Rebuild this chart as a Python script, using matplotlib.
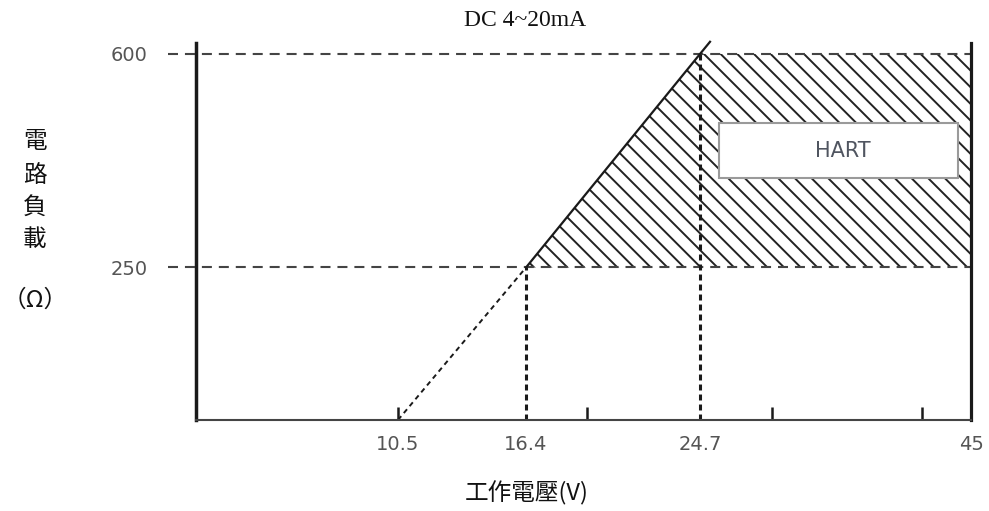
import numpy as np
import matplotlib
matplotlib.use('Agg')
import matplotlib.pyplot as plt
from matplotlib.patches import Polygon, Rectangle

plt.rcParams['lines.scale_dashes'] = False
plt.rcParams['hatch.linewidth'] = 1.4

# ---------------- data ----------------
title = 'DC 4~20mA'
x_label = '工作電壓(V)'
y_label_chars = ['電', '路', '負', '載']
y_label_unit = '（Ω）'
x_tick_values = [10.5, 16.4, 24.7, 45]
x_tick_labels = ['10.5', '16.4', '24.7', '45']
x_minor_ticks = [10.5, 19.3, 30.1, 41.3]
y_tick_values = [250, 600]
y_tick_labels = ['250', '600']
v_start, v_knee, v_full, v_max = 10.5, 16.4, 24.7, 45
r_zero, r_min, r_max = 0, 250, 600
extension_v, extension_r = 25.45, 620
hart_label = 'HART'

# non-linear (schematic) voltage axis: breakpoints -> relative positions
scale_volts = [0, 10.5, 16.4, 24.7, 45]
scale_pos = [0, 202, 330, 504, 775]


def fwd(v):
    return np.interp(v, scale_volts, scale_pos)


def inv(p):
    return np.interp(p, scale_pos, scale_volts)


fig = plt.figure(figsize=(9.89, 5.11), dpi=100)
W, H = 989, 511
ax = fig.add_axes([196 / W, (H - 420) / H, 775 / W, 377 / H])
ax.set_xscale('function', functions=(fwd, inv))
ax.set_xlim(0, 45)
ax.set_ylim(0, 618)

# hatched operating region
poly = Polygon([[v_knee, r_min], [v_full, r_max], [v_max, r_max], [v_max, r_min]],
               closed=True, facecolor='none', edgecolor='#222222', linewidth=0,
               hatch='\\\\', zorder=1)
ax.add_patch(poly)

# horizontal dashed reference lines (extend left of axis)
ytr = ax.get_yaxis_transform()
for r in [r_min, r_max]:
    ax.plot([-0.036, 1.0], [r, r], transform=ytr, color='#444444', lw=1.5,
            linestyle=(0, (7.2, 5.0)), clip_on=False, zorder=2)

# vertical dotted lines
ax.plot([v_knee, v_knee], [r_zero, r_min], color='#1a1a1a', lw=2.2,
        linestyle=(0, (4.3, 2.9)), zorder=2)
ax.plot([v_full, v_full], [r_zero, r_max], color='#1a1a1a', lw=2.2,
        linestyle=(0, (4.3, 2.9)), zorder=2)

# dashed extrapolation line
ax.plot([v_start, v_knee], [r_zero, r_min], color='#1a1a1a', lw=1.4,
        linestyle=(0, (3.6, 2.9)), zorder=2)

# solid load line
ax.plot([v_knee, v_full, extension_v], [r_min, r_max, extension_r],
        color='#1a1a1a', lw=1.6, clip_on=False, zorder=3)

# HART box
ax.add_patch(Rectangle((0.675, 0.642), 0.308, 0.146, transform=ax.transAxes,
                       facecolor='white', edgecolor='#9a9a9a', lw=1.5, zorder=4))
ax.text(0.834, 0.714, hart_label, transform=ax.transAxes, ha='center', va='center',
        fontsize=15, color='#505560', family='DejaVu Sans', zorder=5)

# spines
ax.spines['top'].set_visible(False)
ax.spines['left'].set_linewidth(2.5)
ax.spines['left'].set_color('#1a1a1a')
ax.spines['right'].set_linewidth(2.3)
ax.spines['right'].set_color('#1a1a1a')
ax.spines['bottom'].set_linewidth(1.5)
ax.spines['bottom'].set_color('#444444')

# ticks
ax.xaxis.remove_overlapping_locs = False
ax.set_xticks(x_tick_values)
ax.set_xticklabels(x_tick_labels)
ax.set_xticks(x_minor_ticks, minor=True)
ax.tick_params(axis='x', which='major', length=0, pad=11, labelsize=14,
               labelcolor='#555555')
ax.tick_params(axis='x', which='minor', direction='in', length=9.5, width=1.8,
               color='#1a1a1a')
ax.set_yticks(y_tick_values)
ax.set_yticklabels(y_tick_labels)
ax.tick_params(axis='y', which='both', length=0, pad=35, labelsize=14,
               labelcolor='#555555')
ax.yaxis.set_minor_locator(matplotlib.ticker.NullLocator())

# texts
cjk = ['Noto Sans CJK TC', 'DejaVu Sans']
fig.text(525 / W, 1 - 21 / H, title, ha='center', va='center',
         family='Liberation Serif', fontsize=17, color='#111111')
fig.text(527 / W, 1 - 493 / H, x_label, ha='center', va='center',
         family=cjk, fontsize=17, color='#111111')
for ch, yp in zip(y_label_chars, [142, 175, 208, 240]):
    fig.text(35 / W, 1 - yp / H, ch, ha='center', va='center',
             family=cjk, fontsize=17, color='#111111')
fig.text(35 / W, 1 - 300 / H, y_label_unit, ha='center', va='center',
         family=cjk, fontsize=17, color='#111111')

fig.savefig('out.png', dpi=100)
